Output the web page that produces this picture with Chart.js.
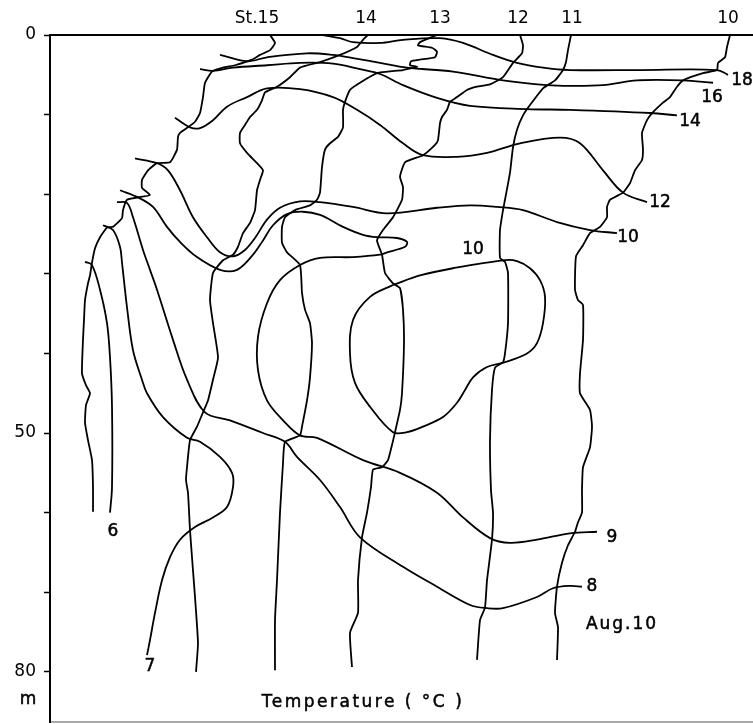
<!DOCTYPE html>
<html lang="en">
<head>
<meta charset="UTF-8">
<title>Temperature sections, Aug. 10</title>
<style>
  html, body { margin: 0; padding: 0; background: #fff; }
  .wrap { width: 753px; height: 724px; position: relative; }
</style>
</head>
<body>
<div class="wrap"><canvas id="tempChart"></canvas></div>
<script src="https://cdn.jsdelivr.net/npm/chart.js"></script>
<script>
// station labels along the top, x = horizontal offset
const stationLabels = ['St.15', '14', '13', '12', '11', '10'];
const stationX = [257, 366, 440, 518, 572, 728];

// depth axis (m)
const depthTicks = [0, 10, 20, 30, 40, 50, 60, 70, 80];
const depthLabels = [0, 50, 80];
const depthMax = 86.3;

// temperature profiles of each station, [x offset, depth m]
const prof15 = [[270,0],[275,1.0],[270,1.9],[260,2.5],[252,3.1],[235,3.8],[223,4.1],[212,4.6],[205,6.0],[203,7.8],[200,9.8],[195,10.9],[188,11.6],[180,12.3],[178,12.8],[177,14.4],[170,16.0],[157,16.1],[148,17.0],[142,18.2],[142,19.2],[150,20.1],[138,20.4],[127,20.7],[123,22.0],[122,23.0],[113,24.1],[107,24.2],[100,25.4],[95,26.8],[92,28.6],[90,30.2],[88,31.2],[85,33.3],[84,35.8],[83,38.3],[82,42.5],[86,44.0],[90,45.0],[86,46.5],[85,48.7],[88,50.9],[92,53.4],[93,56.8],[93,59.9]];
const prof14 = [[368,0],[363,0.6],[357,1.5],[340,2.5],[320,3.4],[300,4.1],[290,5.3],[277,6.5],[265,7.2],[262,8.2],[257,9.4],[250,10.3],[245,11.3],[240,12.3],[240,13.6],[247,14.8],[257,16.1],[263,17.0],[260,18.2],[257,19.5],[255,22.0],[250,23.6],[243,24.9],[238,26.6],[233,27.6],[223,28.3],[213,29.9],[210,33.3],[213,36.2],[218,40.5],[213,43.3],[208,45.9],[203,47.4],[197,49.2],[190,50.9],[187,54.3],[186,55.9],[188,57.5],[190,62.2],[192,65.6],[195,70.6],[198,76.4],[196,80.0]];
const prof13 = [[437,0],[420,0.9],[418,1.3],[432,1.6],[437,2.1],[435,2.8],[420,3.1],[411,3.3],[410,3.8],[417,4.0],[403,4.4],[377,4.8],[360,6.0],[350,6.9],[345,8.4],[343,9.4],[343,11.6],[338,12.8],[330,13.6],[325,14.4],[322,16.6],[320,19.8],[317,20.7],[310,21.4],[295,22.0],[285,22.9],[282,24.1],[282,26.1],[287,27.3],[300,28.9],[302,32.4],[305,34.5],[310,36.2],[312,38.7],[310,43.0],[307,45.9],[302,49.2],[300,50.3],[285,51.1],[283,53.8],[280,60.0],[277,68.5],[275,73.5],[275,79.8]];
const prof12 = [[520,0],[523,1.3],[522,2.3],[513,3.5],[503,5.3],[490,6.2],[477,6.5],[467,6.9],[457,7.8],[450,8.4],[447,9.4],[442,10.3],[440,11.1],[438,13.2],[435,13.8],[423,15.1],[405,16.0],[400,17.8],[403,19.1],[402,20.7],[393,22.9],[383,24.5],[377,25.8],[382,27.6],[385,29.9],[393,31.2],[400,31.8],[403,34.5],[404,38.7],[402,45.0],[400,47.1],[395,49.9],[392,51.5],[388,53.4],[382,54.3],[373,54.6],[371,56.8],[367,60.0],[362,63.1],[358,68.5],[358,72.6],[350,75.1],[352,79.4]];
const prof11 = [[571,0],[568,1.9],[566,3.4],[563,4.4],[555,5.7],[543,6.7],[530,8.8],[523,10.1],[517,11.9],[513,14.1],[510,17.3],[505,20.7],[503,22.0],[500,24.5],[500,28.0],[505,28.5],[508,29.9],[508,36.2],[505,40.0],[503,41.1],[495,41.8],[492,44.6],[490,50.9],[491,57.2],[493,60.0],[492,63.4],[487,68.5],[485,71.9],[480,73.5],[477,78.5]];
const prof10 = [[730,0],[727,1.5],[725,2.8],[718,3.5],[717,4.4],[703,4.8],[683,5.7],[677,6.5],[670,7.8],[663,8.5],[653,9.7],[647,10.7],[642,12.3],[643,14.4],[642,15.7],[635,17.0],[630,18.6],[623,19.8],[610,20.7],[607,21.6],[607,22.9],[600,24.1],[590,24.9],[583,26.4],[576,27.8],[575,32.0],[578,33.3],[583,33.9],[583,38.3],[580,42.5],[580,45.0],[590,47.1],[592,49.2],[590,51.8],[583,54.3],[582,57.2],[582,60.0],[578,61.2],[575,62.4],[568,64.1],[562,66.3],[557,69.3],[555,72.6],[558,74.4],[557,78.5]];

// isotherms (°C), [x offset, depth m]
const iso18 = [[323,0],[340,0.4],[353,0.9],[380,1.0],[403,0.6],[440,0.4],[463,1.0],[493,2.5],[517,3.5],[543,4.1],[570,4.4],[640,4.4],[717,4.4],[728,5.0]];
const iso16 = [[220,2.5],[247,3.3],[267,2.8],[307,2.3],[333,2.5],[353,2.9],[380,3.5],[407,4.1],[453,4.6],[503,5.7],[547,6.3],[570,6.4],[603,6.3],[637,5.7],[683,5.7],[713,6.0]];
const iso14 = [[200,4.3],[213,4.5],[233,4.1],[267,3.8],[300,3.5],[333,3.6],[360,4.3],[380,4.9],[403,6.3],[437,7.9],[470,8.9],[527,9.3],[570,9.4],[650,9.8],[677,10.1]];
const iso12 = [[175,10.4],[190,11.6],[200,11.7],[213,10.7],[227,9.0],[247,7.8],[267,6.7],[300,6.8],[333,7.8],[357,9.4],[380,11.3],[403,13.6],[423,15.1],[457,15.3],[487,14.8],[520,13.6],[560,12.9],[580,13.6],[603,17.0],[623,19.8],[647,21.0]];
const iso10 = [[135,15.5],[157,16.1],[168,17.0],[180,19.5],[193,22.9],[207,25.4],[220,27.3],[233,27.8],[245,27.0],[255,25.5],[267,23.2],[280,21.7],[300,20.9],[320,21.0],[353,21.6],[387,22.4],[437,21.7],[470,21.4],[497,21.6],[523,22.0],[557,23.5],[590,24.5],[617,24.9]];
const iso10core = [[393,31.4],[420,30.2],[453,29.3],[503,28.3],[517,28.4],[530,29.3],[540,30.8],[545,32.9],[543,36.2],[537,38.7],[527,40.0],[505,41.1],[487,41.7],[473,43.0],[465,44.6],[457,46.2],[443,48.0],[423,49.2],[407,49.9],[393,49.9],[370,46.7],[355,43.7],[350,40.0],[353,35.8],[370,32.9],[393,31.4]];
const iso9 = [[120,19.5],[138,20.4],[153,21.6],[167,24.1],[180,26.0],[197,27.9],[220,29.5],[237,29.5],[253,27.6],[263,25.8],[273,23.9],[287,22.5],[303,22.2],[320,22.6],[343,24.1],[363,25.1],[377,25.4],[397,25.5],[407,26.0],[405,26.6],[387,27.3],[380,27.6],[353,27.9],[320,28.0],[300,28.9],[280,30.8],[267,33.7],[258,37.9],[258,42.1],[267,45.9],[283,48.4],[300,50.3],[317,50.6],[363,53.4],[400,55.0],[437,57.5],[463,60.6],[490,63.2],[510,63.8],[537,63.4],[570,62.6],[597,62.4]];
const iso8 = [[117,21.0],[127,21.1],[133,22.9],[143,27.0],[150,29.5],[157,32.0],[173,38.3],[187,43.3],[205,47.4],[230,48.4],[263,50.0],[285,51.1],[297,53.0],[320,55.9],[340,59.3],[360,63.1],[403,66.8],[437,69.3],[470,71.6],[487,72.0],[503,72.0],[537,70.6],[553,69.5],[570,69.2],[582,69.3]];
const iso7 = [[103,23.9],[113,24.5],[120,26.6],[122,28.6],[127,34.2],[133,39.6],[142,43.3],[147,45.0],[163,48.0],[187,50.6],[200,51.1],[220,53.0],[232,55.0],[233,56.8],[227,59.3],[213,60.6],[195,61.8],[180,63.4],[170,65.6],[162,68.5],[155,72.6],[150,76.0],[147,77.9]];
const iso6 = [[85,28.5],[92,28.9],[100,32.0],[107,36.2],[110,40.5],[112,46.7],[112,56.8],[110,60.0]];

// labels: text, x offset, depth
const isoLabels = [['18',742,5.7],['16',712,7.8],['14',690,10.9],['12',660,21.1],['10',628,25.4],['10',473,27.0],['9',612,63.1],['8',592,69.3],['7',150,79.4],['6',113,62.4]];

const FONT = '"DejaVu Sans", sans-serif';

function makeLine(points, tension) {
    return {
        data: points.map(p => ({ x: p[0], y: p[1] })),
        showLine: true,
        borderColor: '#000',
        borderWidth: 1.8,
        pointRadius: 0,
        tension: tension,
        fill: false
    };
}

const profiles = [prof15, prof14, prof13, prof12, prof11, prof10];
const isotherms = [iso18, iso16, iso14, iso12, iso10, iso10core, iso9, iso8, iso7, iso6];

const datasets = [
    ...profiles.map(p => makeLine(p, 0.15)),
    ...isotherms.map(p => makeLine(p, 0.35))
];

// text on the figure (contour values, date, axis captions), a little heavier like the print
function heavyText(ctx, t, px, py) {
    ctx.fillText(t, px, py);
    ctx.strokeText(t, px, py);
}

const figText = {
    id: 'figText',
    afterDraw(chart) {
        const { ctx, scales: { x, y } } = chart;
        ctx.save();
        ctx.fillStyle = '#000';
        ctx.strokeStyle = '#000';
        ctx.lineWidth = 0.5;
        ctx.textAlign = 'center';
        ctx.textBaseline = 'middle';
        ctx.font = '17px ' + FONT;
        isoLabels.forEach(([t, px, d]) => {
            heavyText(ctx, t, x.getPixelForValue(px), y.getPixelForValue(d));
        });
        heavyText(ctx, 'm', x.getPixelForValue(28), y.getPixelForValue(83.5));
        ctx.letterSpacing = '2px';
        heavyText(ctx, 'Aug.10', x.getPixelForValue(622), y.getPixelForValue(74.1));
        ctx.letterSpacing = '2.5px';
        heavyText(ctx, 'Temperature ( °C )', x.getPixelForValue(363), y.getPixelForValue(83.8));
        ctx.restore();
    }
};

// keep the axis boxes at the sizes of the figure frame
function noPad(s) {
    s.paddingTop = 0;
    s.paddingBottom = 0;
    s.paddingLeft = 0;
    s.paddingRight = 0;
}

new Chart(document.getElementById('tempChart'), {
    type: 'scatter',
    data: { datasets: datasets },
    options: {
        responsive: true,
        maintainAspectRatio: false,
        animation: false,
        layout: { padding: 0 },
        plugins: {
            legend: { display: false },
            tooltip: { enabled: false }
        },
        scales: {
            x: {
                type: 'linear',
                position: 'bottom',
                min: 50,
                max: 753,
                ticks: { display: false },
                grid: { display: false, drawTicks: false, tickLength: 0 },
                border: { color: '#a8a8a8', width: 2 },
                afterFit(s) { s.height = 2; noPad(s); }
            },
            top: {
                type: 'linear',
                position: 'top',
                min: 50,
                max: 753,
                grid: { display: false, drawTicks: false, tickLength: 0 },
                border: { color: '#000', width: 2 },
                afterBuildTicks(s) { s.ticks = stationX.map(v => ({ value: v })); },
                ticks: {
                    padding: 6,
                    color: '#000',
                    autoSkip: false,
                    maxRotation: 0,
                    font: { family: FONT, size: 17 },
                    callback: (v, i) => stationLabels[i]
                },
                afterFit(s) { s.height = 35; noPad(s); }
            },
            y: {
                type: 'linear',
                reverse: true,
                min: 0,
                max: depthMax,
                afterBuildTicks(s) { s.ticks = depthTicks.map(v => ({ value: v })); },
                ticks: {
                    padding: 8,
                    color: '#000',
                    autoSkip: false,
                    font: { family: FONT, size: 17 },
                    callback: v => depthLabels.includes(v) ? String(v) : ''
                },
                grid: { drawOnChartArea: false, drawTicks: true, tickLength: 6, tickColor: '#000', tickWidth: 1.5 },
                border: { color: '#000', width: 2 },
                afterFit(s) { s.width = 50; noPad(s); }
            }
        }
    },
    plugins: [figText]
});
</script>
</body>
</html>
